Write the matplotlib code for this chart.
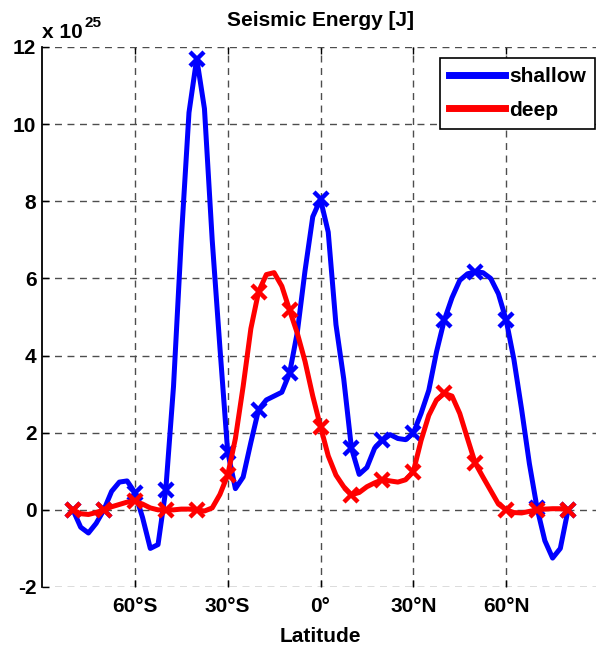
import numpy as np
import matplotlib
matplotlib.use('Agg')
import matplotlib.pyplot as plt

plt.rcParams['font.family'] = ['Liberation Sans', 'DejaVu Sans']
plt.rcParams['font.weight'] = 'bold'
plt.rcParams['axes.unicode_minus'] = False

# latitude grid of the curves (deg, negative = south)
lat = [-80, -77.5, -75, -72.5, -70, -67.5, -65, -62.5, -60, -57.5, -55, -52.5,
       -50, -47.5, -45, -42.5, -40, -37.5, -35, -32.5, -30, -27.5, -25, -22.5,
       -20, -17.5, -15, -12.5, -10, -7.5, -5, -2.5, 0, 2.5, 5, 7.5,
       10, 12.5, 15, 17.5, 20, 22.5, 25, 27.5, 30, 32.5, 35, 37.5,
       40, 42.5, 45, 47.5, 50, 52.5, 55, 57.5, 60, 62.5, 65, 67.5,
       70, 72.5, 75, 77.5, 80]

# seismic energy, units of 1e25 J
shallow = [0.0, -0.45, -0.6, -0.35, 0.0, 0.48, 0.72, 0.75, 0.45, -0.2, -1.0, -0.9,
           0.52, 3.2, 7.0, 10.3, 11.7, 10.4, 7.0, 4.2, 1.51, 0.55, 0.85, 1.75,
           2.6, 2.85, 2.95, 3.05, 3.54, 4.6, 6.2, 7.6, 8.05, 7.2, 4.8, 3.4,
           1.6, 0.92, 1.1, 1.6, 1.8, 1.95, 1.85, 1.82, 1.99, 2.5, 3.1, 4.1,
           4.92, 5.5, 5.95, 6.12, 6.17, 6.15, 6.0, 5.6, 4.92, 3.9, 2.6, 1.2,
           0.04, -0.8, -1.25, -1.0, 0.0]
deep = [0.0, -0.1, -0.12, -0.07, 0.0, 0.08, 0.14, 0.2, 0.22, 0.15, 0.05, 0.0,
        0.0, 0.0, 0.02, 0.02, 0.0, -0.03, 0.05, 0.4, 0.9, 1.85, 3.2, 4.7,
        5.66, 6.1, 6.15, 5.8, 5.18, 4.58, 3.85, 2.95, 2.16, 1.4, 0.9, 0.6,
        0.39, 0.45, 0.6, 0.7, 0.78, 0.75, 0.72, 0.78, 0.99, 1.8, 2.45, 2.85,
        3.02, 2.95, 2.5, 1.85, 1.21, 0.85, 0.5, 0.15, 0.0, -0.07, -0.08, -0.04,
        0.0, 0.02, 0.03, 0.03, 0.0]

xticks = [-60, -30, 0, 30, 60]
xticklabels = ['60°S', '30°S', '0°', '30°N', '60°N']
yticks = [-2, 0, 2, 4, 6, 8, 10, 12]

lat = np.array(lat)
shallow = np.array(shallow)
deep = np.array(deep)
mk = slice(None, None, 4)  # crosses every 10 deg

fig = plt.figure(figsize=(5.96, 6.52), dpi=100)
ax = fig.add_axes([42/596, 65/652, 557/596, 540/652])

ax.plot(lat, shallow, color='b', lw=3.6, label='shallow', zorder=3)
ax.plot(lat[mk], shallow[mk], 'x', color='b', ms=10, mew=3.2, zorder=4)
ax.plot(lat, deep, color='r', lw=3.6, label='deep', zorder=5)
ax.plot(lat[mk], deep[mk], 'x', color='r', ms=10, mew=3.2, zorder=6)

ax.set_xlim(-90, 90)
ax.set_ylim(-2, 12)
ax.set_xticks(xticks)
ax.set_xticklabels(xticklabels)
ax.set_yticks(yticks)
ax.tick_params(direction='in', length=5, width=1, top=True, labelsize=15, pad=7)
ax.tick_params(axis='y', pad=4)
for lab in ax.get_xticklabels() + ax.get_yticklabels():
    lab.set_fontweight('bold')

ax.grid(True, linestyle=(0, (5, 4)), color='0.3', linewidth=1.0)
for s in ['top', 'right', 'bottom']:
    ax.spines[s].set_visible(False)
ax.spines['left'].set_linewidth(1.3)

ax.set_title('Seismic Energy [J]', fontsize=15, fontweight='bold', pad=15)
ax.set_xlabel('Latitude', fontsize=15, fontweight='bold', labelpad=8)

t = ax.text(0.0, 1.0167, 'x 10', transform=ax.transAxes, ha='left', va='baseline',
            fontsize=15, fontweight='bold')
ax.annotate('25', xy=(1.0, 1.0), xycoords=t, xytext=(1, 0), textcoords='offset points',
            ha='left', va='center', fontsize=11, fontweight='bold')

leg = ax.legend(loc='upper right', bbox_to_anchor=(0.993, 0.98), borderaxespad=0,
                fontsize=15, fancybox=False, framealpha=1, edgecolor='k',
                handlelength=2.65, handletextpad=0.2, labelspacing=0.7, borderpad=0.45)
leg.get_frame().set_linewidth(1.2)
for line in leg.get_lines():
    line.set_linewidth(5)

fig.savefig('out.png', dpi=100)
